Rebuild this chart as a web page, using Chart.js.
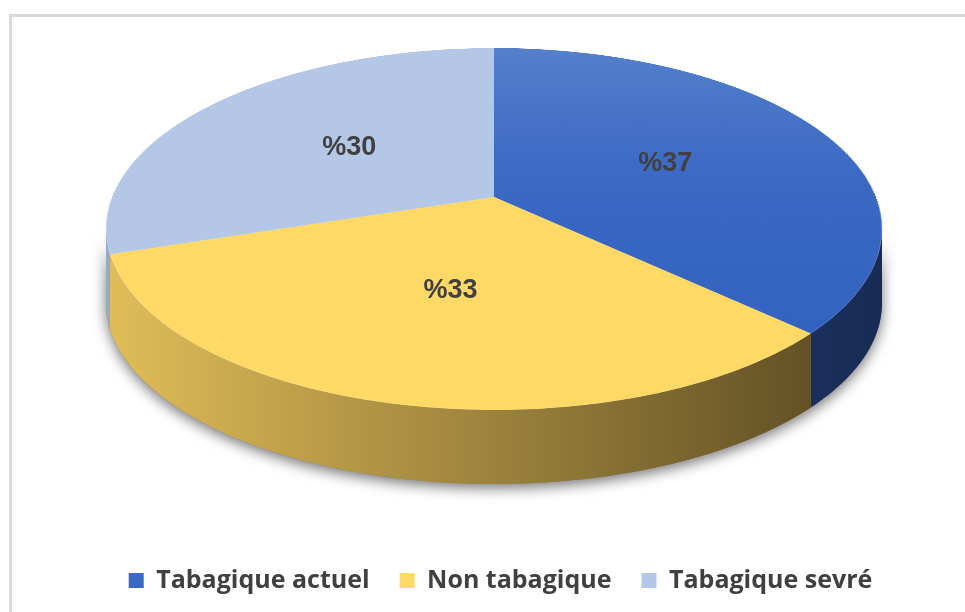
<!DOCTYPE html>
<html>
<head>
<meta charset="utf-8">
<script src="https://cdn.jsdelivr.net/npm/chart.js@4.4.1/dist/chart.umd.min.js"></script>
<style>
  html, body { margin: 0; background: #fff; overflow: hidden; }
  #frame { position: absolute; left: 9px; top: 14px; width: 1000px; height: 700px; border: 3px solid #d9d9d9; box-sizing: border-box; }
  #wrap { position: absolute; left: 0; top: 0; width: 965px; height: 612px; }
</style>
</head>
<body>
<div id="frame"></div>
<div id="wrap"><canvas id="chartTabac"></canvas></div>
<script>
const labels = ['Tabagique actuel', 'Non tabagique', 'Tabagique sevré'];
const values = [37, 33, 30];
const topColors = ['#3b69c4', '#ffd966', '#b4c7e7'];
// side gradient, left -> right
const sideColors = [['#3a5aa0', '#172b55'], ['#e0bd58', '#574720'], ['#9aabca', '#5b6987']];

// tilted disc: y of far edge, of the centre, of the near edge
const tilt = { cx: 494, top: 48, mid: 197, bottom: 410, halfWidth: 388, depth: 74 };

const c = (tilt.top + tilt.bottom - 2 * tilt.mid) / (tilt.top - tilt.bottom);
const a = tilt.mid - tilt.top + tilt.top * c;
const s0 = tilt.halfWidth * Math.sqrt(1 - c * c);

function project(u, w) {
  const den = 1 + c * w;
  return { x: tilt.cx + s0 * u / den, y: (a * w + tilt.mid) / den };
}

// blue top gets a soft light from the back
function topColor(context) {
  const i = context.dataIndex;
  const area = context.chart.chartArea;
  if (i !== 0 || !area) return topColors[i];
  const mid = (area.top + area.bottom) / 2;
  const r = Math.min(area.right - area.left, area.bottom - area.top) / 2;
  const g = context.chart.ctx.createLinearGradient(0, mid - r, 0, mid + r);
  g.addColorStop(0, '#5580cc');
  g.addColorStop(0.45, '#3b69c4');
  g.addColorStop(1, '#3060bf');
  return g;
}

const off = document.createElement('canvas');

const tiltPlugin = {
  id: 'tilt',
  beforeDatasetsDraw(chart) {
    const ctx = chart.ctx;
    const arcs = chart.getDatasetMeta(0).data;
    const th1 = Math.asin(-c), th2 = Math.PI - th1;

    // side wall, shadow first
    const wall = (a0, a1) => {
      const n = 80;
      ctx.beginPath();
      for (let k = 0; k <= n; k++) {
        const t = a0 + (a1 - a0) * k / n;
        const p = project(Math.cos(t), Math.sin(t));
        k ? ctx.lineTo(p.x, p.y) : ctx.moveTo(p.x, p.y);
      }
      for (let k = n; k >= 0; k--) {
        const t = a0 + (a1 - a0) * k / n;
        const p = project(Math.cos(t), Math.sin(t));
        ctx.lineTo(p.x, p.y + tilt.depth);
      }
      ctx.closePath();
    };
    ctx.save();
    ctx.shadowColor = 'rgba(0,0,0,0.55)';
    ctx.shadowBlur = 14;
    ctx.shadowOffsetY = 4;
    wall(th1, th2);
    ctx.fillStyle = '#777';
    ctx.fill();
    ctx.restore();

    arcs.forEach((arc, i) => {
      const a0 = Math.max(arc.startAngle, th1);
      const a1 = Math.min(arc.endAngle, th2);
      if (a1 <= a0) return;
      const g = ctx.createLinearGradient(tilt.cx - tilt.halfWidth, 0, tilt.cx + tilt.halfWidth, 0);
      g.addColorStop(0, sideColors[i][0]);
      g.addColorStop(1, sideColors[i][1]);
      wall(a0, a1);
      ctx.fillStyle = g;
      ctx.fill();
    });

    // flat pie drawn by the arc elements, then laid down row by row
    const R = 400;
    off.width = off.height = 2 * R;
    const octx = off.getContext('2d');
    arcs.forEach(arc => {
      octx.save();
      const s = R / arc.outerRadius;
      octx.translate(R, R);
      octx.scale(s, s);
      octx.translate(-arc.x, -arc.y);
      arc.draw(octx);
      octx.restore();
    });
    const wAt = y => (y - tilt.mid) / (a - y * c);
    for (let y = tilt.top; y < tilt.bottom; y++) {
      const w0 = Math.max(-1, wAt(y)), w1 = Math.min(1, wAt(y + 1));
      const wm = (w0 + w1) / 2;
      const sc = s0 / (1 + c * wm) / R;
      const sy = R + w0 * R, sh = Math.max(0.5, (w1 - w0) * R);
      ctx.drawImage(off, 0, sy, 2 * R, sh, tilt.cx - R * sc, y, 2 * R * sc, 1);
    }

    // value labels
    ctx.save();
    ctx.font = 'bold 27px "Liberation Sans", Arial, sans-serif';
    ctx.fillStyle = '#404040';
    ctx.textAlign = 'center';
    ctx.textBaseline = 'middle';
    arcs.forEach((arc, i) => {
      const pt = arc.getCenterPoint();
      const p = project((pt.x - arc.x) / arc.outerRadius, (pt.y - arc.y) / arc.outerRadius);
      ctx.fillText('%' + values[i], p.x + 2, p.y);
    });
    ctx.restore();
    return false;
  }
};

new Chart(document.getElementById('chartTabac'), {
  type: 'pie',
  data: {
    labels: labels,
    datasets: [{
      data: values,
      backgroundColor: topColor,
      borderWidth: 0,
    }],
  },
  options: {
    responsive: true,
    maintainAspectRatio: false,
    animation: false,
    layout: { padding: { left: 36, bottom: 9 } },
    plugins: {
      tooltip: { enabled: false },
      legend: {
        position: 'bottom',
        labels: {
          boxWidth: 15,
          boxHeight: 15,
          padding: 30,
          color: '#404040',
          font: { family: '"Open Sans", sans-serif', size: 25, weight: 'bold' },
          generateLabels(chart) {
            return labels.map((text, i) => ({
              text: text,
              fillStyle: topColors[i],
              strokeStyle: topColors[i],
              lineWidth: 0,
              index: i,
              fontColor: '#404040',
            }));
          },
        },
      },
    },
  },
  plugins: [tiltPlugin],
});
</script>
</body>
</html>
